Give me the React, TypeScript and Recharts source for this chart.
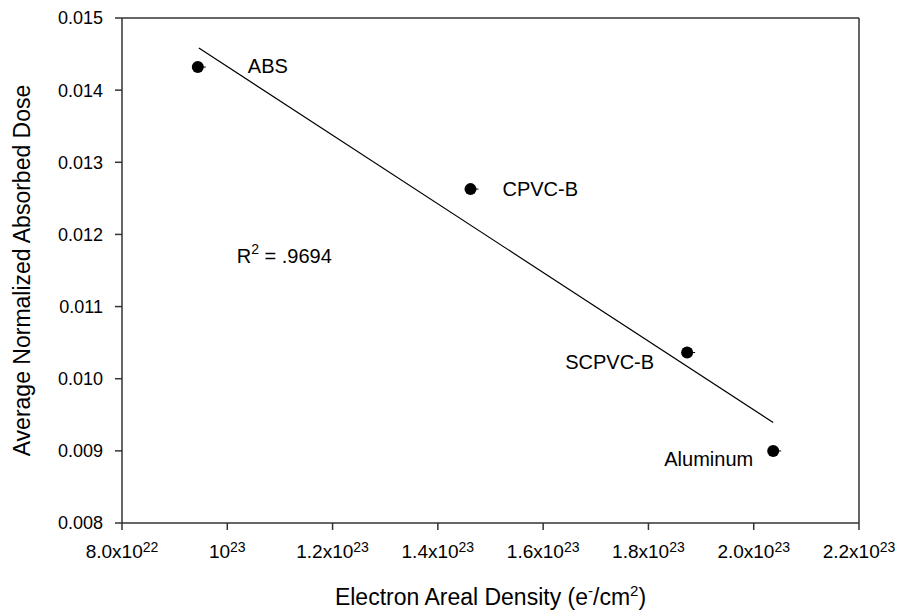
import {
  ReferenceDot,
  ReferenceLine,
  Scatter,
  ScatterChart,
  XAxis,
  YAxis,
} from "recharts";

const materials = ["ABS", "CPVC-B", "SCPVC-B", "Aluminum"];
const electronDensity = [9.44e22, 1.462e23, 1.8735e23, 2.037e23];
const absorbedDose = [0.01432, 0.012628, 0.010363, 0.008999];

// regression line end points as drawn
const fitDensity = [9.46e22, 2.037e23];
const fitDose = [0.014584, 0.009393];

const xTicks = [8e22, 1e23, 1.2e23, 1.4e23, 1.6e23, 1.8e23, 2.0e23, 2.2e23];
const xTickMantissa = ["8.0x10", "10", "1.2x10", "1.4x10", "1.6x10", "1.8x10", "2.0x10", "2.2x10"];
const xTickExponent = ["22", "23", "23", "23", "23", "23", "23", "23"];
const yTicks = [0.008, 0.009, 0.01, 0.011, 0.012, 0.013, 0.014, 0.015];

const points = materials.map((name, i) => ({
  name,
  x: electronDensity[i],
  y: absorbedDose[i],
}));
const fitLine = fitDensity.map((x, i) => ({ x, y: fitDose[i] }));

const FONT = "'Liberation Sans', Arial, sans-serif";
const AXIS = "#333";

// where each point's label sits relative to the dot
const labelPlace: Record<string, { dx: number; dy: number; anchor: "start" | "end" }> = {
  ABS: { dx: 50, dy: 6, anchor: "start" },
  "CPVC-B": { dx: 32, dy: 7, anchor: "start" },
  "SCPVC-B": { dx: -33, dy: 16, anchor: "end" },
  Aluminum: { dx: -20, dy: 15, anchor: "end" },
};

const PointShape = (props: any) => {
  const { cx, cy, payload } = props;
  const place = labelPlace[payload.name];
  return (
    <g>
      <circle cx={cx} cy={cy} r={6} fill="#000" />
      <line x1={cx} y1={cy} x2={cx + 8} y2={cy} stroke="#000" strokeWidth={1} />
      <text
        x={cx + place.dx}
        y={cy + place.dy}
        textAnchor={place.anchor}
        fontSize={20}
        fontFamily={FONT}
        fill="#000"
      >
        {payload.name}
      </text>
    </g>
  );
};

const XTick = (props: any) => {
  const { x, y, index } = props;
  return (
    <text x={x} y={y + 28} textAnchor="middle" fontSize={19} fontFamily={FONT} fill="#000">
      {xTickMantissa[index]}
      <tspan dy={-6} fontSize={14}>
        {xTickExponent[index]}
      </tspan>
    </text>
  );
};

const XTitle = (props: any) => {
  const { x, y, width } = props.viewBox;
  return (
    <text x={x + width / 2} y={y + 82} textAnchor="middle" fontSize={23} fontFamily={FONT} fill="#000">
      Electron Areal Density (e
      <tspan dy={-9} fontSize={15}>-</tspan>
      <tspan dy={9}>/cm</tspan>
      <tspan dy={-9} fontSize={15}>2</tspan>
      <tspan dy={9}>)</tspan>
    </text>
  );
};

const YTitle = (props: any) => {
  const { y, height } = props.viewBox;
  const cy = y + height / 2;
  return (
    <text
      x={30}
      y={cy}
      transform={`rotate(-90, 30, ${cy})`}
      textAnchor="middle"
      fontSize={23}
      fontFamily={FONT}
      fill="#000"
    >
      Average Normalized Absorbed Dose
    </text>
  );
};

const RSquared = (props: any) => {
  const { cx, cy } = props;
  return (
    <text x={cx} y={cy} fontSize={20} fontFamily={FONT} fill="#000">
      R<tspan dy={-9} fontSize={14}>2</tspan>
      <tspan dy={9}> = .9694</tspan>
    </text>
  );
};

export default function App() {
  return (
    <div style={{ position: "absolute", left: 0, top: 0, background: "#fff" }}>
      <ScatterChart
        width={900}
        height={611}
        margin={{ top: 18, right: 41, bottom: 0, left: 0 }}
      >
        <XAxis
          type="number"
          dataKey="x"
          domain={[8e22, 2.2e23]}
          ticks={xTicks}
          interval={0}
          height={88}
          tickSize={7}
          tickMargin={0}
          stroke={AXIS}
          strokeWidth={1.5}
          tick={<XTick />}
          label={{ content: XTitle }}
        />
        <YAxis
          type="number"
          dataKey="y"
          domain={[0.008, 0.015]}
          ticks={yTicks}
          interval={0}
          width={122}
          tickSize={7}
          tickMargin={12}
          stroke={AXIS}
          strokeWidth={1.5}
          tickFormatter={(v: number) => v.toFixed(3)}
          tick={{ fill: "#000", fontSize: 18, fontFamily: FONT }}
          label={{ content: YTitle }}
        />
        <ReferenceLine y={0.015} stroke={AXIS} strokeWidth={1.5} />
        <ReferenceLine x={2.2e23} stroke={AXIS} strokeWidth={1.5} />
        <Scatter
          data={fitLine}
          line={{ stroke: "#000", strokeWidth: 1.2 }}
          shape={() => <g />}
          isAnimationActive={false}
        />
        <Scatter data={points} shape={PointShape} isAnimationActive={false} />
        <ReferenceDot x={1.018e23} y={0.0116} r={0} shape={RSquared} />
      </ScatterChart>
    </div>
  );
}
